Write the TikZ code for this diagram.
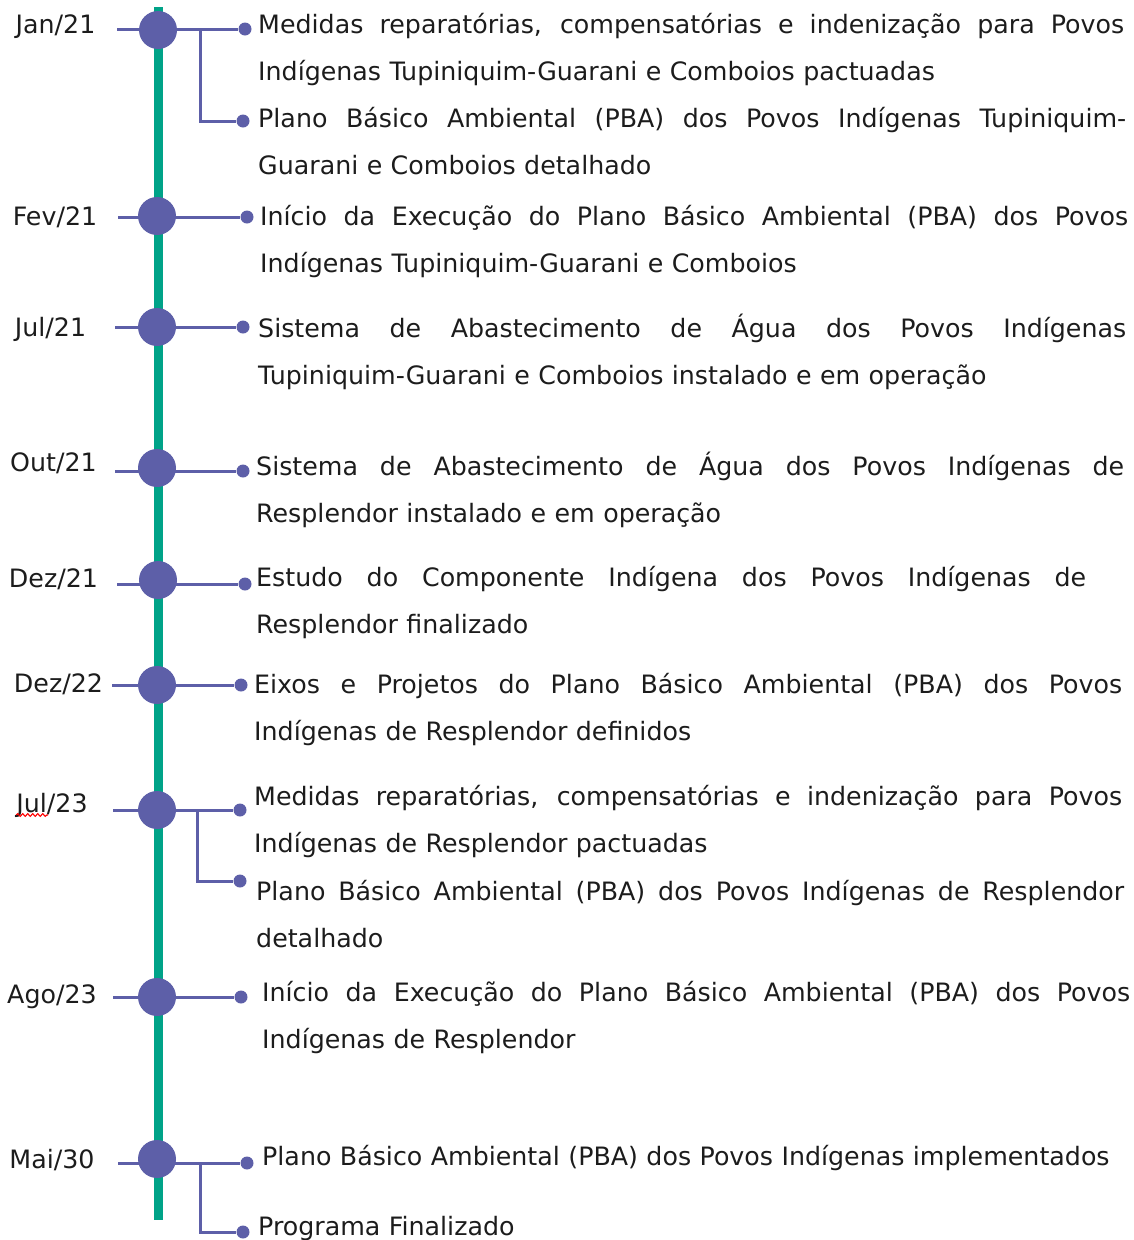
\documentclass[tikz,border=0pt]{standalone}
\usepackage{fontspec}
\setmainfont{DejaVu Sans}
\usetikzlibrary{decorations.pathmorphing}
\definecolor{tlgreen}{RGB}{0,163,136}
\definecolor{tlpurple}{RGB}{93,95,168}
\definecolor{tltext}{RGB}{28,28,28}
\newcommand{\jl}[2]{\makebox[#1pt][s]{\spaceskip=\fontdimen2\font plus 1fil\relax #2}}
\begin{document}
\begin{tikzpicture}[x=1pt,y=-1pt,
  spine/.style={draw=tlgreen, line width=9pt},
  conn/.style={draw=tlpurple, line width=3pt},
  event/.style={circle, fill=tlpurple, minimum size=38pt, inner sep=0pt},
  tip/.style={circle, fill=tlpurple, minimum size=13pt, inner sep=0pt},
  datelbl/.style={anchor=base, inner sep=0pt, text=tltext, font=\fontsize{25.3}{47}\selectfont},
  desc/.style={anchor=base west, inner sep=0pt, text=tltext, text width=900pt, align=left, font=\fontsize{25.3}{47}\selectfont},
  spell/.style={draw=red, line width=1.1pt, decorate, decoration={snake, amplitude=1.4pt, segment length=5pt}}
]
\useasboundingbox (0,0) rectangle (1134,1240);

% spine
\coordinate (top) at (158,7);
\coordinate (bottom) at (158,1220);
\draw[spine] (top) -- (bottom);

% tips (dots)
\node[tip] (d1a) at (245,29) {};
\node[tip] (d1b) at (243,121) {};
\node[tip] (d2) at (247,217) {};
\node[tip] (d3) at (243,327) {};
\node[tip] (d4) at (243,471) {};
\node[tip] (d5) at (245,584) {};
\node[tip] (d6) at (241,685) {};
\node[tip] (d7a) at (240,810) {};
\node[tip] (d7b) at (240,881) {};
\node[tip] (d8) at (241,997) {};
\node[tip] (d9a) at (247,1163) {};
\node[tip] (d9b) at (243,1232) {};

% left tick ends and branch points
\coordinate (l1) at (117,29);
\coordinate (l2) at (118,217);
\coordinate (l3) at (115,327);
\coordinate (l4) at (115,471);
\coordinate (l5) at (117,584);
\coordinate (l6) at (112,685);
\coordinate (l7) at (113,810);
\coordinate (l8) at (113,997);
\coordinate (l9) at (118,1163);
\coordinate (b1) at (200,29);
\coordinate (b7) at (197,810);
\coordinate (b9) at (200,1163);

\draw[conn] (l1) -- (d1a);
\draw[conn] (b1) |- (d1b);
\draw[conn] (l2) -- (d2);
\draw[conn] (l3) -- (d3);
\draw[conn] (l4) -- (d4);
\draw[conn] (l5) -- (d5);
\draw[conn] (l6) -- (d6);
\draw[conn] (l7) -- (d7a);
\draw[conn] (b7) |- (d7b);
\draw[conn] (l8) -- (d8);
\draw[conn] (l9) -- (d9a);
\draw[conn] (b9) |- (d9b);

% event circles
\node[event] (e1) at (158,30) {};
\node[event] (e2) at (157,216) {};
\node[event] (e3) at (157,327) {};
\node[event] (e4) at (157,468) {};
\node[event] (e5) at (158,580) {};
\node[event] (e6) at (157,685) {};
\node[event] (e7) at (157,810) {};
\node[event] (e8) at (157,997) {};
\node[event] (e9) at (157,1159) {};

% date labels
\node[datelbl] (lab1) at (55.5,33) {Jan/21};
\node[datelbl] (lab2) at (55,225) {Fev/21};
\node[datelbl] (lab3) at (50.5,336) {Jul/21};
\node[datelbl] (lab4) at (53.5,471) {Out/21};
\node[datelbl] (lab5) at (53.5,587) {Dez/21};
\node[datelbl] (lab6) at (58.5,692) {Dez/22};
\node[datelbl] (lab7) at (52,812) {Jul/23};
\node[datelbl] (lab8) at (52,1003) {Ago/23};
\node[datelbl] (lab9) at (52,1168) {Mai/30};
\draw[spell] (lab7.base west) ++(0,3) -- ++(32,0);

% descriptions
\node[desc] (t1a) at (258,33) {\jl{866}{Medidas reparatórias, compensatórias e indenização para Povos}\\Indígenas Tupiniquim-Guarani e Comboios pactuadas};
\node[desc] (t1b) at (258,127) {\jl{868}{Plano Básico Ambiental (PBA) dos Povos Indígenas Tupiniquim-}\\Guarani e Comboios detalhado};
\node[desc] (t2) at (260,225) {\jl{868}{Início da Execução do Plano Básico Ambiental (PBA) dos Povos}\\Indígenas Tupiniquim-Guarani e Comboios};
\node[desc] (t3) at (258,337) {\jl{868}{Sistema de Abastecimento de Água dos Povos Indígenas}\\Tupiniquim-Guarani e Comboios instalado e em operação};
\node[desc] (t4) at (256,475) {\jl{868}{Sistema de Abastecimento de Água dos Povos Indígenas de}\\Resplendor instalado e em operação};
\node[desc] (t5) at (256,586) {\jl{830}{Estudo do Componente Indígena dos Povos Indígenas de}\\Resplendor finalizado};
\node[desc] (t6) at (254,693) {\jl{868}{Eixos e Projetos do Plano Básico Ambiental (PBA) dos Povos}\\Indígenas de Resplendor definidos};
\node[desc] (t7a) at (254,805) {\jl{868}{Medidas reparatórias, compensatórias e indenização para Povos}\\Indígenas de Resplendor pactuadas};
\node[desc] (t7b) at (256,900) {\jl{868}{Plano Básico Ambiental (PBA) dos Povos Indígenas de Resplendor}\\detalhado};
\node[desc] (t8) at (262,1001) {\jl{868}{Início da Execução do Plano Básico Ambiental (PBA) dos Povos}\\Indígenas de Resplendor};
\node[desc] (t9a) at (262,1165) {Plano Básico Ambiental (PBA) dos Povos Indígenas implementados};
\node[desc] (t9b) at (258,1235) {Programa Finalizado};
\end{tikzpicture}
\end{document}
